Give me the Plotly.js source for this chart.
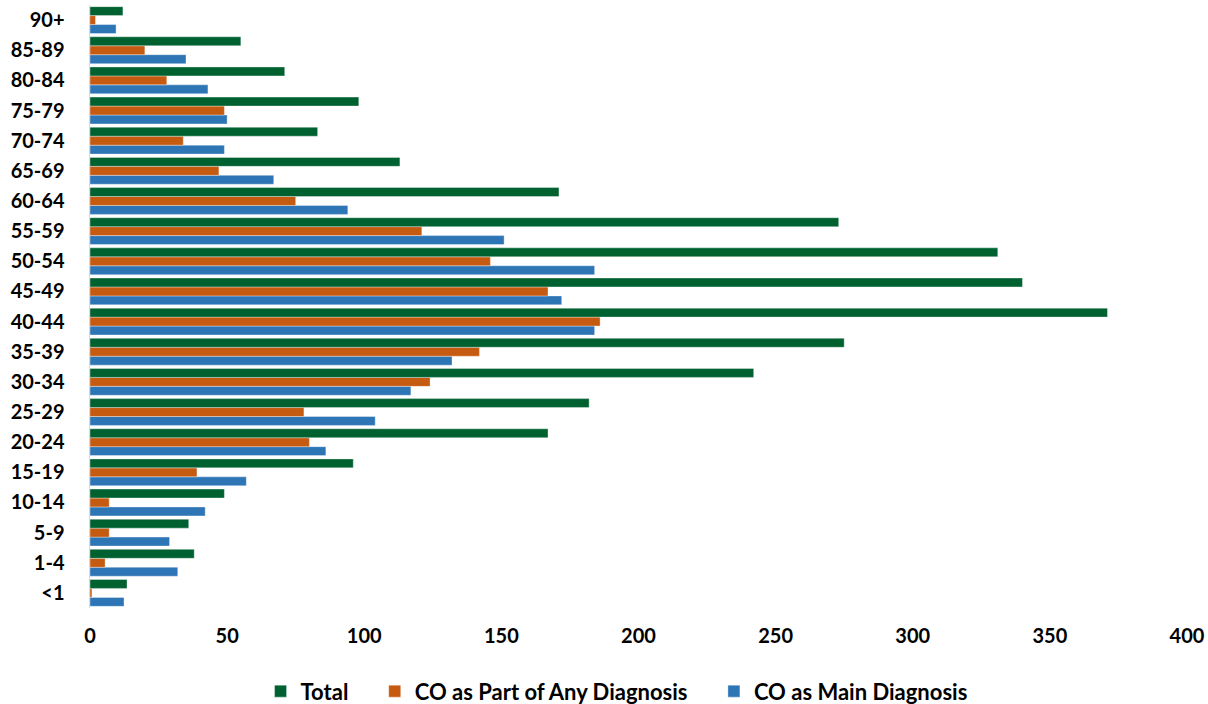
<!DOCTYPE html>
<html>
<head>
<meta charset="utf-8">
<script src="https://cdn.plot.ly/plotly-3.0.1.min.js"></script>
<style>html,body{margin:0;padding:0;background:#fff;}#chart{width:1208px;height:704px;}</style>
</head>
<body>
<div id="chart"></div>
<script>
var ageGroups = ["<1","1-4","5-9","10-14","15-19","20-24","25-29","30-34","35-39","40-44","45-49","50-54","55-59","60-64","65-69","70-74","75-79","80-84","85-89","90+"];
var totalVals = [13.5,38,36,49,96,167,182,242,275,371,340,331,273,171,113,83,98,71,55,12];
var anyDiagVals = [0.7,5.5,7,7,39,80,78,124,142,186,167,146,121,75,47,34,49,28,20,2];
var mainDiagVals = [12.4,32,29,42,57,86,104,117,132,184,172,184,151,94,67,49,50,43,35,9.5];
var xTicks = [0,50,100,150,200,250,300,350,400];
var seriesNames = ["Total", "CO as Part of Any Diagnosis", "CO as Main Diagnosis"];

var pad = '\u00a0\u00a0\u00a0\u00a0';
var lineStyle = {color:'rgba(255,255,255,0.6)', width:0.6};
var traces = [
  {type:'bar', orientation:'h', name:seriesNames[2], y:ageGroups, x:mainDiagVals,
   marker:{color:'#2e75b6', line:lineStyle}, legendrank:3},
  {type:'bar', orientation:'h', name:seriesNames[1] + pad, y:ageGroups, x:anyDiagVals,
   marker:{color:'#c55a11', line:lineStyle}, legendrank:2},
  {type:'bar', orientation:'h', name:seriesNames[0] + pad, y:ageGroups, x:totalVals,
   marker:{color:'#006130', line:lineStyle}, legendrank:1}
];

var fontFam = 'Lato, "Open Sans", sans-serif';
var layout = {
  width:1208, height:704,
  margin:{l:90, r:21, t:5, b:96},
  paper_bgcolor:'#fff', plot_bgcolor:'#fff',
  barmode:'group', bargap:0.11, bargroupgap:0,
  font:{family:fontFam, size:20, color:'#000', weight:'bold'},
  showlegend:true,
  legend:{orientation:'h', x:0.48, xanchor:'center', yref:'container', y:0.018, yanchor:'middle',
          font:{family:fontFam, size:22, color:'#000', weight:'bold'}, itemwidth:30},
  xaxis:{range:[0,400], tickvals:xTicks, ticktext:xTicks.map(String), showgrid:false, zeroline:false,
         showline:false, ticks:'', ticklabelstandoff:14, fixedrange:true,
         tickfont:{family:fontFam, size:20, color:'#000', weight:'bold'}},
  yaxis:{type:'category', categoryorder:'array', categoryarray:ageGroups, showgrid:false, zeroline:false,
         showline:true, linecolor:'#d9d9d9', linewidth:1.5, ticks:'', ticklabelstandoff:20,
         tickfont:{family:fontFam, size:20, color:'#000', weight:'bold'}}
};
Plotly.newPlot('chart', traces, layout, {displayModeBar:false, staticPlot:true});
</script>
</body>
</html>
